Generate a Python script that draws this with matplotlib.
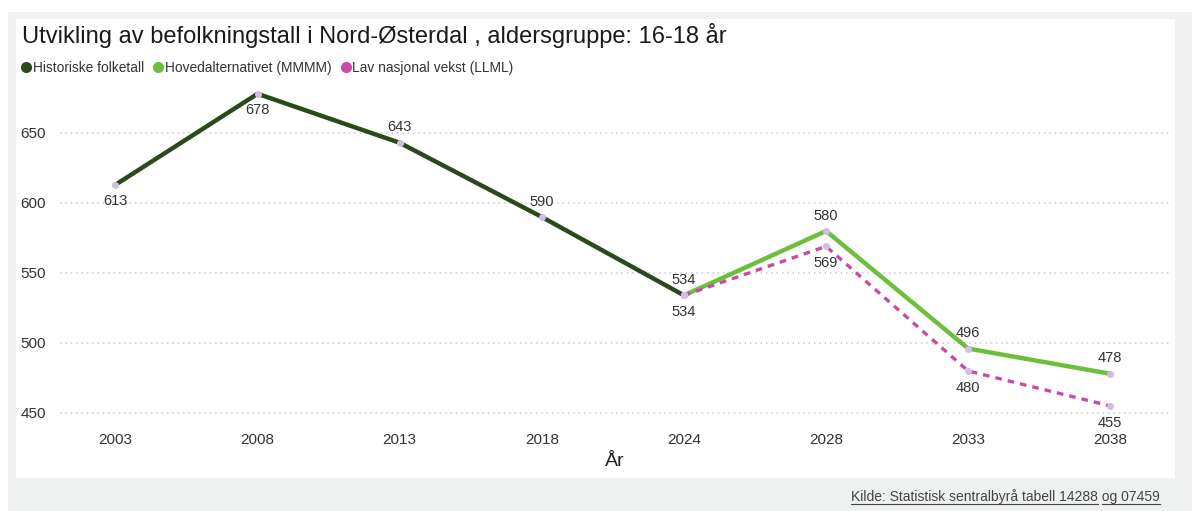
import matplotlib
matplotlib.use("Agg")
import matplotlib.pyplot as plt
from matplotlib.patches import Rectangle
from matplotlib.lines import Line2D

plt.rcParams['font.family'] = ['Liberation Sans', 'DejaVu Sans']

years = ["2003", "2008", "2013", "2018", "2024", "2028", "2033", "2038"]
hist_years = ["2003", "2008", "2013", "2018", "2024"]
hist_vals = [613, 678, 643, 590, 534]
proj_years = ["2024", "2028", "2033", "2038"]
hoved_vals = [534, 580, 496, 478]
lav_vals = [534, 569, 480, 455]

hist_pos = ["below", "below", "above", "above", "below"]
hoved_pos = ["above", "above", "above", "above"]
lav_pos = [None, "below", "below", "below"]

c_hist = "#2b4a1c"
c_hoved = "#6cbf3d"
c_lav = "#c84aa6"
c_mark = "#d3bde3"

fig = plt.figure(figsize=(12, 5.11), dpi=100)
fig.patch.set_facecolor("white")
fig.add_artist(Rectangle((8/1200, 0), 1184/1200, 1 - 12/511, transform=fig.transFigure,
                         facecolor="#eff1f0", edgecolor="none", zorder=-3))
fig.add_artist(Rectangle((16/1200, 1 - 478/511), (1175 - 16)/1200, (478 - 19)/511,
                         transform=fig.transFigure, facecolor="white", edgecolor="none", zorder=-2))

ax = fig.add_axes([60/1200, 1 - 425/511, (1170 - 60)/1200, (425 - 90)/511])
ax.set_facecolor("none")
xi = {y: i for i, y in enumerate(years)}

hx = [xi[y] for y in hist_years]
px = [xi[y] for y in proj_years]
ax.plot(px, hoved_vals, color=c_hoved, lw=3.2, solid_capstyle="round", zorder=3)
ax.plot(px, lav_vals, color=c_lav, lw=2.4, ls=(0, (2, 1.8)), zorder=3)
ax.plot(hx, hist_vals, color=c_hist, lw=3.2, solid_capstyle="round", zorder=4)
for xs, vs in [(hx, hist_vals), (px, hoved_vals), (px, lav_vals)]:
    ax.plot(xs, vs, ls="none", marker="o", ms=4, color=c_mark, zorder=5)

def label(xs, vs, pos):
    for x, v, p in zip(xs, vs, pos):
        if p is None:
            continue
        off = 11 if p == "above" else -12
        ax.annotate(str(v), (x, v), xytext=(0, off), textcoords="offset points",
                    ha="center", va="center", fontsize=10.5, color="#333333", zorder=6)

label(hx, hist_vals, hist_pos)
label(px, hoved_vals, hoved_pos)
label(px, lav_vals, lav_pos)

ax.set_xlim(-0.39, 7.42)
ax.set_ylim(441.4, 680.7)
ax.set_yticks([450, 500, 550, 600, 650])
ax.set_xticks(range(len(years)))
ax.set_xticklabels(years)
ax.grid(axis="y", color="#c8c8c8", ls=(0, (1, 2.5)), lw=1.1)
ax.set_axisbelow(True)
for s in ax.spines.values():
    s.set_visible(False)
ax.tick_params(length=0, labelsize=11, colors="#333333")
ax.tick_params(axis="y", pad=10)
ax.tick_params(axis="x", pad=6)
ax.set_xlabel("År", fontsize=14, color="#222222", labelpad=4)

fig.text(22/1200, 1 - 35/511, "Utvikling av befolkningstall i Nord-Østerdal , aldersgruppe: 16-18 år",
         fontsize=17, color="#1a1a1a", va="center", ha="left")

leg_items = [("Historiske folketall", c_hist), ("Hovedalternativet (MMMM)", c_hoved),
             ("Lav nasjonal vekst (LLML)", c_lav)]
handles = [Line2D([], [], ls="none", marker="o", ms=7, color=c) for _, c in leg_items]
fig.legend(handles, [t for t, _ in leg_items], loc="center left",
           bbox_to_anchor=(14/1200, 1 - 68/511), ncol=3, frameon=False, fontsize=9.9,
           handletextpad=0.0, columnspacing=0.5, handlelength=1.0, borderaxespad=0,
           labelcolor="#333333")

src_fs = 10
full = "Kilde: Statistisk sentralbyrå tabell 14288 og 07459"
part1 = "Kilde: Statistisk sentralbyrå tabell 14288"
t1 = fig.text(1160/1200, 1 - 497/511, full, fontsize=src_fs, color="#444444", ha="right", va="center")
fig.canvas.draw()
r = fig.canvas.get_renderer()
bb = t1.get_window_extent(r)
tmp = fig.text(0, 0, part1, fontsize=src_fs)
w1 = tmp.get_window_extent(r).width
tmp2 = fig.text(0, 0, "og 07459", fontsize=src_fs)
w2 = tmp2.get_window_extent(r).width
tmp.remove(); tmp2.remove()
yline = bb.y0 + 0.5
W, H = fig.bbox.width, fig.bbox.height
fig.add_artist(Line2D([bb.x0 / W, (bb.x0 + w1) / W], [yline / H, yline / H],
                      transform=fig.transFigure, color="#444444", lw=0.8))
fig.add_artist(Line2D([(bb.x1 - w2) / W, bb.x1 / W], [yline / H, yline / H],
                      transform=fig.transFigure, color="#444444", lw=0.8))

fig.savefig("out.png", dpi=100)
